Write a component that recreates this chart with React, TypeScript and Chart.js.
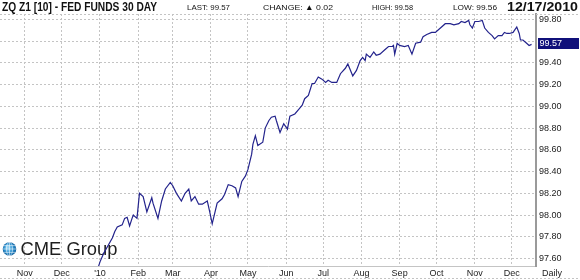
import React, { useEffect, useRef } from "react";
import { Chart, registerables } from "chart.js";
Chart.register(...registerables);

// days since 2010-01-01
const dayOffsets = [
  -2,
  0, 3, 10, 12, 14, 18, 20, 22, 24, 26,
  27, 30, 32, 35, 38, 42, 43, 47, 50, 53,
  57, 59, 62, 66, 69, 72, 74, 77, 80, 83,
  87, 89, 91, 95, 99, 101, 104, 107, 110, 112,
  115, 118, 120, 123, 124, 126, 128, 132, 134, 137,
  139, 142, 143, 146, 149, 152, 154, 158, 161, 164,
  166, 169, 172, 174, 177, 180, 183, 185, 188, 192,
  195, 199, 201, 205, 208, 211, 213, 215, 216, 219,
  222, 224, 227, 231, 234, 237, 238, 239, 241, 243,
  247, 250, 253, 256, 260, 262, 265, 269, 272, 274,
  277, 280, 284, 287, 291, 293, 296, 299, 300, 302,
  304, 307, 310, 312, 315, 318, 320, 323, 326, 328,
  330, 332, 335, 338, 340, 341, 343, 346, 348, 350,
];

const prices = [
  97.5,
  97.57, 97.65, 97.79, 97.85, 97.89, 97.91, 97.97, 97.98, 97.9, 97.97,
  98.0, 97.97, 98.2, 98.17, 98.03, 98.16, 98.11, 97.97, 98.13, 98.24,
  98.3, 98.27, 98.2, 98.13, 98.2, 98.24, 98.13, 98.17, 98.1, 98.1,
  98.13, 98.03, 97.92, 98.11, 98.15, 98.19, 98.28, 98.27, 98.25, 98.17,
  98.31, 98.36, 98.42, 98.56, 98.65, 98.73, 98.64, 98.67, 98.8, 98.87,
  98.9, 98.91, 98.87, 98.76, 98.84, 98.79, 98.91, 98.93, 98.97, 99.01,
  99.07, 99.1, 99.21, 99.21, 99.27, 99.25, 99.22, 99.24, 99.22, 99.22,
  99.3, 99.35, 99.39, 99.28, 99.33, 99.42, 99.45, 99.42, 99.48, 99.45,
  99.5, 99.47, 99.48, 99.52, 99.55, 99.55, 99.56, 99.48, 99.58, 99.56,
  99.55, 99.56, 99.48, 99.58, 99.59, 99.64, 99.66, 99.68, 99.68, 99.7,
  99.73, 99.76, 99.76, 99.75, 99.76, 99.78, 99.77, 99.79, 99.75, 99.72,
  99.78, 99.78, 99.79, 99.72, 99.68, 99.65, 99.62, 99.65, 99.65, 99.68,
  99.67, 99.67, 99.68, 99.73, 99.67, 99.61, 99.61, 99.58, 99.56, 99.57,
];

const monthTickDays = [-61, -31, 0, 31, 59, 90, 120, 151, 181, 212, 243, 273, 304, 334];
const monthTickLabels = ["Nov", "Dec", "'10", "Feb", "Mar", "Apr", "May", "Jun", "Jul", "Aug", "Sep", "Oct", "Nov", "Dec"];
const priceTicks = [97.6, 97.8, 98.0, 98.2, 98.4, 98.6, 98.8, 99.0, 99.2, 99.4, 99.6, 99.8];

const titleText = "ZQ Z1 [10] - FED FUNDS 30 DAY";
const statTexts = ["LAST: 99.57", "CHANGE: \u25B2 0.02", "HIGH: 99.58", "LOW: 99.56"];
const dateText = "12/17/2010";
const periodText = "Daily";
const logoText = "CME Group";
const lastPrice = 99.57;

const FONT = "'Liberation Sans', Arial, Helvetica, sans-serif";
const GRID = "#c4c4c4";
const LINE = "#23238c";

function fitText(ctx: CanvasRenderingContext2D, text: string, x: number, y: number, w: number) {
  const nat = ctx.measureText(text).width;
  ctx.save();
  ctx.translate(x, y);
  ctx.scale(w / nat, 1);
  ctx.fillText(text, 0, 0);
  ctx.restore();
}

const decorPlugin = {
  id: "decor",
  beforeDatasetsDraw(chart: any) {
    const ctx: CanvasRenderingContext2D = chart.ctx;
    ctx.save();
    // globe
    const cx = 9.5, cy = 249, r = 6.8;
    const g = ctx.createRadialGradient(cx - 2, cy - 2, 1, cx, cy, r);
    g.addColorStop(0, "#8fd0f2");
    g.addColorStop(0.6, "#2f93d1");
    g.addColorStop(1, "#0e5f9e");
    ctx.fillStyle = g;
    ctx.beginPath();
    ctx.arc(cx, cy, r, 0, Math.PI * 2);
    ctx.fill();
    ctx.strokeStyle = "rgba(255,255,255,0.75)";
    ctx.lineWidth = 0.7;
    ctx.beginPath();
    ctx.ellipse(cx, cy, r * 0.45, r, 0, 0, Math.PI * 2);
    ctx.moveTo(cx, cy - r);
    ctx.lineTo(cx, cy + r);
    ctx.moveTo(cx - r, cy);
    ctx.lineTo(cx + r, cy);
    ctx.moveTo(cx - r * 0.87, cy - r * 0.5);
    ctx.lineTo(cx + r * 0.87, cy - r * 0.5);
    ctx.moveTo(cx - r * 0.87, cy + r * 0.5);
    ctx.lineTo(cx + r * 0.87, cy + r * 0.5);
    ctx.stroke();
    ctx.fillStyle = "#1e1e1e";
    ctx.font = "18px " + FONT;
    ctx.textBaseline = "alphabetic";
    fitText(ctx, logoText, 20.5, 254.5, 97);
    ctx.restore();
  },
  afterDraw(chart: any) {
    const ctx: CanvasRenderingContext2D = chart.ctx;
    const yScale = chart.scales.y;
    ctx.save();
    // header separator and bottom border
    ctx.strokeStyle = GRID;
    ctx.lineWidth = 1;
    ctx.setLineDash([2, 2]);
    ctx.beginPath();
    ctx.moveTo(0, 14.5);
    ctx.lineTo(580, 14.5);
    ctx.moveTo(0, 278.5);
    ctx.lineTo(580, 278.5);
    ctx.stroke();
    ctx.setLineDash([]);
    // header texts
    ctx.fillStyle = "#111";
    ctx.textBaseline = "alphabetic";
    ctx.font = "bold 12px " + FONT;
    fitText(ctx, titleText, 2, 10.5, 155);
    fitText(ctx, dateText, 507, 10.5, 71);
    ctx.font = "8px " + FONT;
    const sx = [187, 263, 372, 453];
    const sw = [43, 70, 41, 44];
    statTexts.forEach((t, i) => fitText(ctx, t, sx[i], 9.5, sw[i]));
    // period label
    ctx.fillStyle = "#222";
    ctx.font = "9px " + FONT;
    ctx.textBaseline = "middle";
    ctx.fillText(periodText, 542, 273.5);
    // last price badge
    const py = yScale.getPixelForValue(lastPrice);
    ctx.fillStyle = "#10107a";
    ctx.fillRect(538, Math.round(py) - 6, 41, 11);
    ctx.fillStyle = "#ffffff";
    ctx.fillText(lastPrice.toFixed(2), 539.5, Math.round(py) - 0.5);
    ctx.restore();
  },
};

export default function App() {
  const ref = useRef<HTMLCanvasElement | null>(null);
  useEffect(() => {
    if (!ref.current) return;
    const points = dayOffsets.map((d, i) => ({ x: d, y: prices[i] }));
    const chart = new Chart(ref.current, {
      type: "line",
      data: {
        datasets: [
          {
            data: points,
            borderColor: LINE,
            borderWidth: 1.2,
            pointRadius: 0,
            tension: 0,
            fill: false,
          },
        ],
      },
      options: {
        animation: false,
        responsive: false,
        devicePixelRatio: 1,
        layout: { padding: { top: 14, left: 0, right: 0, bottom: 0 } },
        plugins: { legend: { display: false }, tooltip: { enabled: false }, title: { display: false } },
        scales: {
          x: {
            type: "linear",
            min: -81.1,
            max: 353.6,
            afterBuildTicks: (scale: any) => {
              scale.ticks = monthTickDays.map((v) => ({ value: v }));
            },
            afterFit: (scale: any) => {
              scale.height = 14;
            },
            ticks: {
              autoSkip: false,
              maxRotation: 0,
              padding: 2,
              color: "#222",
              font: { family: FONT, size: 9 },
              callback: (_v: any, i: number) => monthTickLabels[i],
            },
            grid: { color: GRID, drawTicks: false, lineWidth: 1 },
            border: { display: true, color: GRID, dash: [2, 2], width: 1 },
          },
          y: {
            type: "linear",
            position: "right",
            min: 97.532,
            max: 99.849,
            afterBuildTicks: (scale: any) => {
              scale.ticks = priceTicks.map((v) => ({ value: v }));
            },
            afterFit: (scale: any) => {
              scale.width = 44;
            },
            ticks: {
              padding: 3,
              color: "#222",
              font: { family: FONT, size: 9 },
              callback: (v: any) => Number(v).toFixed(2),
            },
            grid: { color: GRID, drawTicks: false, lineWidth: 1 },
            border: { display: true, color: "#9a9a9a", width: 2, dash: [2, 2] },
          },
        },
      } as any,
      plugins: [decorPlugin],
    });
    return () => chart.destroy();
  }, []);
  return (
    <div style={{ position: "absolute", left: 0, top: 0, width: 580, height: 280, background: "#fff" }}>
      <canvas ref={ref} width={580} height={280} style={{ display: "block" }} />
    </div>
  );
}
